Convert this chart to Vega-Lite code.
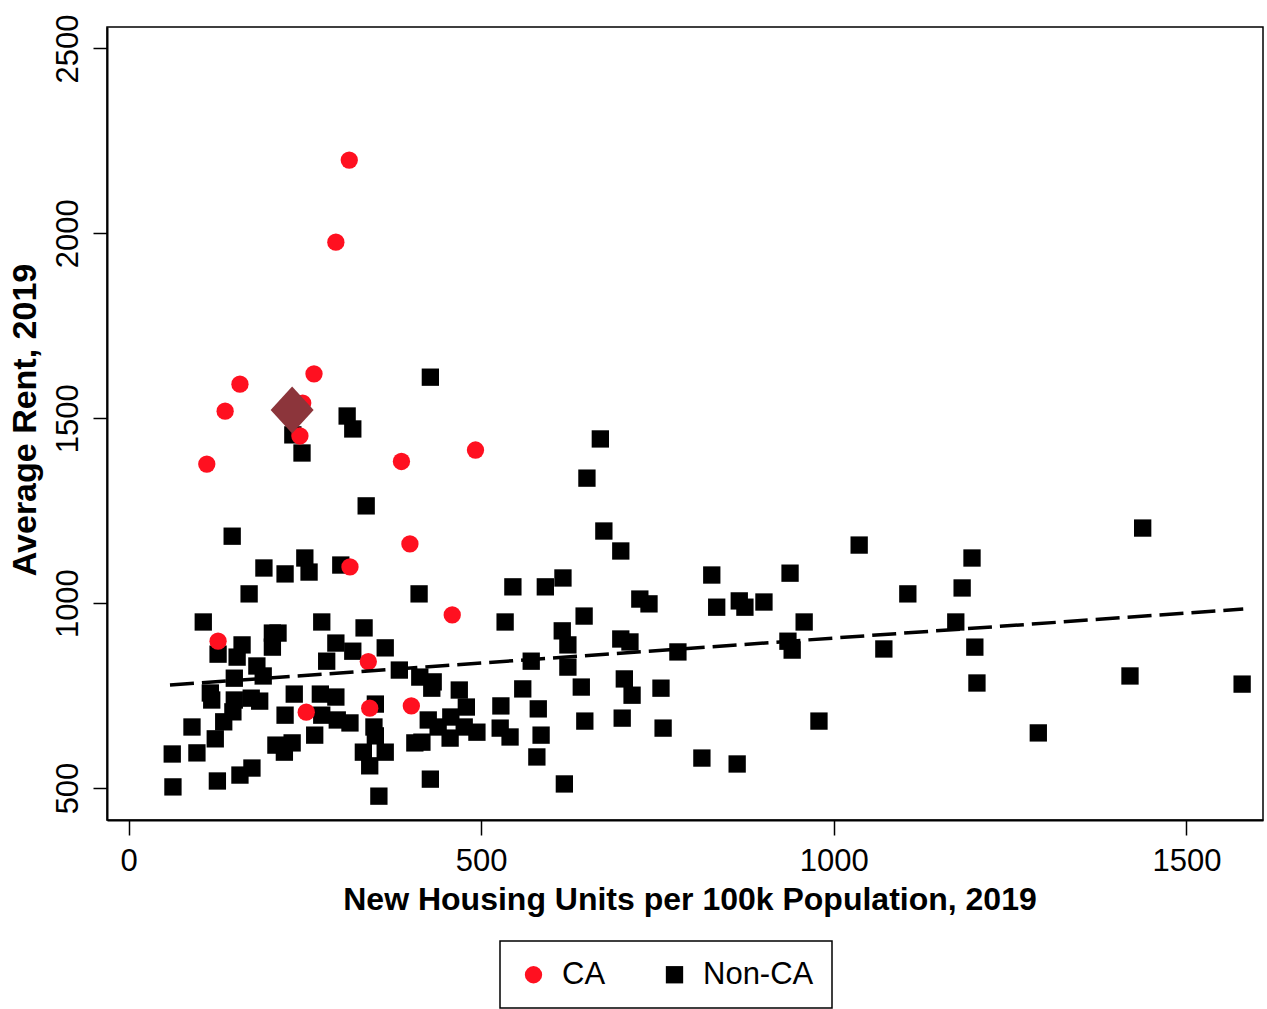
{
  "$schema": "https://vega.github.io/schema/vega-lite/v6.json",
  "width": 1156,
  "height": 793,
  "autosize": {"type": "none"},
  "padding": {"left": 107, "top": 27, "right": 4, "bottom": 189},
  "background": "white",
  "config": {
    "view": {"stroke": "black", "strokeWidth": 1.5},
    "font": "Liberation Sans",
    "axis": {
      "grid": false,
      "domainColor": "black",
      "domainWidth": 2,
      "tickColor": "black",
      "tickWidth": 1.5,
      "labelColor": "black",
      "titleColor": "black",
      "labelFont": "Liberation Sans",
      "titleFont": "Liberation Sans",
      "labelFontSize": 31,
      "titleFontWeight": "bold",
      "labelFlush": false,
      "labelOverlap": false
    },
    "legend": {
      "orient": "none",
      "legendX": 393,
      "legendY": 914,
      "direction": "horizontal",
      "strokeColor": "black",
      "strokeWidth": 1.5,
      "padding": 18,
      "labelFont": "Liberation Sans",
      "labelFontSize": 31,
      "labelColor": "black",
      "symbolSize": 300,
      "labelOffset": 13,
      "columnPadding": 53
    }
  },
  "datasets": {
    "fit": [
      {"x": 58.8, "y": 778.5},
      {"x": 1580.6, "y": 983.8}
    ],
    "hl": [
      {"x": 232, "y": 1522}
    ],
    "pts": [
      {"x": 428, "y": 1611, "group": "Non-CA"},
      {"x": 310, "y": 1506, "group": "Non-CA"},
      {"x": 318, "y": 1471, "group": "Non-CA"},
      {"x": 233, "y": 1455, "group": "Non-CA"},
      {"x": 246, "y": 1406, "group": "Non-CA"},
      {"x": 669, "y": 1444, "group": "Non-CA"},
      {"x": 650, "y": 1338, "group": "Non-CA"},
      {"x": 337, "y": 1263, "group": "Non-CA"},
      {"x": 147, "y": 1181, "group": "Non-CA"},
      {"x": 674, "y": 1195, "group": "Non-CA"},
      {"x": 698, "y": 1141, "group": "Non-CA"},
      {"x": 192, "y": 1095, "group": "Non-CA"},
      {"x": 222, "y": 1079, "group": "Non-CA"},
      {"x": 250, "y": 1122, "group": "Non-CA"},
      {"x": 256, "y": 1084, "group": "Non-CA"},
      {"x": 301, "y": 1103, "group": "Non-CA"},
      {"x": 171, "y": 1025, "group": "Non-CA"},
      {"x": 412, "y": 1025, "group": "Non-CA"},
      {"x": 545, "y": 1044, "group": "Non-CA"},
      {"x": 591, "y": 1044, "group": "Non-CA"},
      {"x": 616, "y": 1068, "group": "Non-CA"},
      {"x": 725, "y": 1011, "group": "Non-CA"},
      {"x": 738, "y": 998, "group": "Non-CA"},
      {"x": 534, "y": 949, "group": "Non-CA"},
      {"x": 646, "y": 965, "group": "Non-CA"},
      {"x": 615, "y": 925, "group": "Non-CA"},
      {"x": 623, "y": 887, "group": "Non-CA"},
      {"x": 623, "y": 827, "group": "Non-CA"},
      {"x": 698, "y": 903, "group": "Non-CA"},
      {"x": 711, "y": 895, "group": "Non-CA"},
      {"x": 779, "y": 868, "group": "Non-CA"},
      {"x": 571, "y": 843, "group": "Non-CA"},
      {"x": 364, "y": 879, "group": "Non-CA"},
      {"x": 384, "y": 819, "group": "Non-CA"},
      {"x": 413, "y": 800, "group": "Non-CA"},
      {"x": 432, "y": 787, "group": "Non-CA"},
      {"x": 430, "y": 770, "group": "Non-CA"},
      {"x": 469, "y": 765, "group": "Non-CA"},
      {"x": 479, "y": 719, "group": "Non-CA"},
      {"x": 457, "y": 692, "group": "Non-CA"},
      {"x": 425, "y": 684, "group": "Non-CA"},
      {"x": 439, "y": 665, "group": "Non-CA"},
      {"x": 456, "y": 635, "group": "Non-CA"},
      {"x": 476, "y": 665, "group": "Non-CA"},
      {"x": 494, "y": 651, "group": "Non-CA"},
      {"x": 406, "y": 622, "group": "Non-CA"},
      {"x": 416, "y": 624, "group": "Non-CA"},
      {"x": 559, "y": 768, "group": "Non-CA"},
      {"x": 528, "y": 722, "group": "Non-CA"},
      {"x": 581, "y": 714, "group": "Non-CA"},
      {"x": 527, "y": 662, "group": "Non-CA"},
      {"x": 541, "y": 638, "group": "Non-CA"},
      {"x": 585, "y": 643, "group": "Non-CA"},
      {"x": 579, "y": 584, "group": "Non-CA"},
      {"x": 642, "y": 773, "group": "Non-CA"},
      {"x": 703, "y": 795, "group": "Non-CA"},
      {"x": 714, "y": 751, "group": "Non-CA"},
      {"x": 755, "y": 770, "group": "Non-CA"},
      {"x": 647, "y": 681, "group": "Non-CA"},
      {"x": 700, "y": 689, "group": "Non-CA"},
      {"x": 758, "y": 662, "group": "Non-CA"},
      {"x": 428, "y": 524, "group": "Non-CA"},
      {"x": 618, "y": 511, "group": "Non-CA"},
      {"x": 1036, "y": 1157, "group": "Non-CA"},
      {"x": 827, "y": 1076, "group": "Non-CA"},
      {"x": 834, "y": 989, "group": "Non-CA"},
      {"x": 866, "y": 1006, "group": "Non-CA"},
      {"x": 874, "y": 989, "group": "Non-CA"},
      {"x": 901, "y": 1003, "group": "Non-CA"},
      {"x": 938, "y": 1081, "group": "Non-CA"},
      {"x": 1105, "y": 1025, "group": "Non-CA"},
      {"x": 1196, "y": 1122, "group": "Non-CA"},
      {"x": 1182, "y": 1041, "group": "Non-CA"},
      {"x": 1173, "y": 949, "group": "Non-CA"},
      {"x": 958, "y": 949, "group": "Non-CA"},
      {"x": 935, "y": 897, "group": "Non-CA"},
      {"x": 941, "y": 873, "group": "Non-CA"},
      {"x": 1071, "y": 876, "group": "Non-CA"},
      {"x": 1200, "y": 881, "group": "Non-CA"},
      {"x": 1203, "y": 784, "group": "Non-CA"},
      {"x": 979, "y": 681, "group": "Non-CA"},
      {"x": 1290, "y": 649, "group": "Non-CA"},
      {"x": 813, "y": 581, "group": "Non-CA"},
      {"x": 863, "y": 565, "group": "Non-CA"},
      {"x": 1438, "y": 1203, "group": "Non-CA"},
      {"x": 1420, "y": 803, "group": "Non-CA"},
      {"x": 1579, "y": 781, "group": "Non-CA"},
      {"x": 106, "y": 949, "group": "Non-CA"},
      {"x": 127, "y": 862, "group": "Non-CA"},
      {"x": 161, "y": 887, "group": "Non-CA"},
      {"x": 154, "y": 854, "group": "Non-CA"},
      {"x": 204, "y": 919, "group": "Non-CA"},
      {"x": 212, "y": 919, "group": "Non-CA"},
      {"x": 204, "y": 881, "group": "Non-CA"},
      {"x": 182, "y": 830, "group": "Non-CA"},
      {"x": 191, "y": 803, "group": "Non-CA"},
      {"x": 150, "y": 797, "group": "Non-CA"},
      {"x": 274, "y": 949, "group": "Non-CA"},
      {"x": 334, "y": 933, "group": "Non-CA"},
      {"x": 294, "y": 892, "group": "Non-CA"},
      {"x": 318, "y": 870, "group": "Non-CA"},
      {"x": 281, "y": 843, "group": "Non-CA"},
      {"x": 116, "y": 757, "group": "Non-CA"},
      {"x": 118, "y": 738, "group": "Non-CA"},
      {"x": 150, "y": 738, "group": "Non-CA"},
      {"x": 148, "y": 706, "group": "Non-CA"},
      {"x": 174, "y": 743, "group": "Non-CA"},
      {"x": 186, "y": 735, "group": "Non-CA"},
      {"x": 135, "y": 679, "group": "Non-CA"},
      {"x": 123, "y": 633, "group": "Non-CA"},
      {"x": 90, "y": 665, "group": "Non-CA"},
      {"x": 62, "y": 592, "group": "Non-CA"},
      {"x": 97, "y": 595, "group": "Non-CA"},
      {"x": 63, "y": 503, "group": "Non-CA"},
      {"x": 126, "y": 519, "group": "Non-CA"},
      {"x": 158, "y": 535, "group": "Non-CA"},
      {"x": 175, "y": 554, "group": "Non-CA"},
      {"x": 235, "y": 754, "group": "Non-CA"},
      {"x": 272, "y": 754, "group": "Non-CA"},
      {"x": 294, "y": 746, "group": "Non-CA"},
      {"x": 222, "y": 697, "group": "Non-CA"},
      {"x": 274, "y": 697, "group": "Non-CA"},
      {"x": 296, "y": 684, "group": "Non-CA"},
      {"x": 314, "y": 676, "group": "Non-CA"},
      {"x": 264, "y": 643, "group": "Non-CA"},
      {"x": 209, "y": 616, "group": "Non-CA"},
      {"x": 232, "y": 622, "group": "Non-CA"},
      {"x": 221, "y": 597, "group": "Non-CA"},
      {"x": 350, "y": 727, "group": "Non-CA"},
      {"x": 348, "y": 665, "group": "Non-CA"},
      {"x": 350, "y": 641, "group": "Non-CA"},
      {"x": 333, "y": 597, "group": "Non-CA"},
      {"x": 364, "y": 597, "group": "Non-CA"},
      {"x": 342, "y": 560, "group": "Non-CA"},
      {"x": 355, "y": 478, "group": "Non-CA"},
      {"x": 313, "y": 2198, "group": "CA"},
      {"x": 294, "y": 1976, "group": "CA"},
      {"x": 263, "y": 1620, "group": "CA"},
      {"x": 158, "y": 1592, "group": "CA"},
      {"x": 137, "y": 1519, "group": "CA"},
      {"x": 111, "y": 1376, "group": "CA"},
      {"x": 243, "y": 1452, "group": "CA"},
      {"x": 247, "y": 1541, "group": "CA"},
      {"x": 387, "y": 1383, "group": "CA"},
      {"x": 492, "y": 1414, "group": "CA"},
      {"x": 399, "y": 1160, "group": "CA"},
      {"x": 314, "y": 1098, "group": "CA"},
      {"x": 459, "y": 968, "group": "CA"},
      {"x": 127, "y": 897, "group": "CA"},
      {"x": 340, "y": 842, "group": "CA"},
      {"x": 252, "y": 705, "group": "CA"},
      {"x": 342, "y": 716, "group": "CA"},
      {"x": 401, "y": 722, "group": "CA"}
    ]
  },
  "encoding": {
    "x": {
      "field": "x",
      "type": "quantitative",
      "scale": {"domain": [-30.5, 1608.6], "nice": false, "zero": false},
      "axis": {
        "values": [0, 500, 1000, 1500],
        "format": "d",
        "title": "New Housing Units per 100k Population, 2019",
        "tickSize": 15,
        "labelPadding": 35,
        "labelBaseline": "alphabetic",
        "labelAlign": "center",
        "titleFontSize": 32,
        "titleX": 582.5,
        "titleY": 89,
        "titleAlign": "center",
        "titleBaseline": "alphabetic"
      }
    },
    "y": {
      "field": "y",
      "type": "quantitative",
      "scale": {"domain": [413.5, 2558], "nice": false, "zero": false},
      "axis": {
        "values": [500, 1000, 1500, 2000, 2500],
        "format": "d",
        "title": "Average Rent, 2019",
        "tickSize": 14,
        "labelAngle": -90,
        "labelAlign": "center",
        "labelBaseline": "alphabetic",
        "labelPadding": 16,
        "titleFontSize": 34,
        "titleAngle": -90,
        "titleX": -72,
        "titleY": 392.5,
        "titleAlign": "center",
        "titleBaseline": "alphabetic"
      }
    }
  },
  "layer": [
    {
      "data": {"name": "pts"},
      "mark": {"type": "point", "filled": true, "opacity": 1, "size": 300, "strokeWidth": 0},
      "encoding": {
        "color": {
          "field": "group",
          "type": "nominal",
          "scale": {"domain": ["CA", "Non-CA"], "range": ["#ff1020", "black"]},
          "legend": {"title": null}
        },
        "shape": {
          "field": "group",
          "type": "nominal",
          "scale": {"domain": ["CA", "Non-CA"], "range": ["circle", "square"]},
          "legend": {"title": null}
        }
      }
    },
    {
      "data": {"name": "fit"},
      "mark": {"type": "line", "color": "black", "strokeWidth": 3.5, "strokeDash": [24, 8]},
      "encoding": {}
    },
    {
      "data": {"name": "hl"},
      "mark": {"type": "point", "filled": true, "opacity": 1, "size": 2209, "strokeWidth": 0, "shape": "M-0.915,0L0,-1L0.915,0L0,1Z", "color": "#8c353b"},
      "encoding": {}
    }
  ]
}
